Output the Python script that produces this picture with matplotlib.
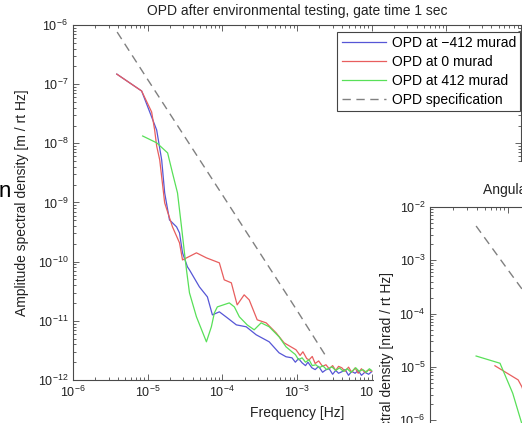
import matplotlib
matplotlib.use("Agg")
import matplotlib.pyplot as plt
from matplotlib.ticker import LogLocator, NullFormatter
from matplotlib.patches import Rectangle

plt.rcParams['font.family'] = ['Liberation Sans', 'DejaVu Sans']
plt.rcParams['mathtext.fontset'] = 'custom'
plt.rcParams['mathtext.rm'] = 'Liberation Sans'
plt.rcParams['mathtext.it'] = 'Liberation Sans:italic'
plt.rcParams['mathtext.bf'] = 'Liberation Sans:bold'

# ---------------- data (main chart) ----------------
title_main = "OPD after environmental testing, gate time 1 sec"
xlabel_main = "Frequency [Hz]"
ylabel_main = "Amplitude spectral density [m / rt Hz]"
legend_labels = ["OPD at \u2212412 murad", "OPD at 0 murad", "OPD at 412 murad", "OPD specification"]

f_blue = [3.86e-6, 8.3e-6, 1.32e-5, 1.54e-5, 1.69e-5, 1.96e-5, 2.44e-5, 2.67e-5, 2.93e-5, 3.41e-5,
          3.63e-5, 4.93e-5, 6.31e-5, 7.36e-5, 9.12e-5, 1.17e-4, 1.54e-4, 2.09e-4, 2.84e-4, 4.24e-4,
          5.75e-4, 7.13e-4, 8.57e-4, 9.5e-4, 1.05e-3, 1.17e-3, 1.3e-3, 1.4e-3, 1.58e-3, 1.75e-3,
          1.95e-3, 2.2e-3, 2.44e-3, 2.7e-3, 3.0e-3, 3.3e-3, 3.6e-3, 4.0e-3, 4.4e-3, 4.9e-3,
          5.4e-3, 6.0e-3, 6.6e-3, 7.3e-3, 8.1e-3, 9.1e-3, 1e-2]
a_blue = [1.48e-7, 7.67e-8, 1.68e-8, 5.25e-9, 1.45e-9, 5.08e-10, 3.87e-10, 3.06e-10, 1.41e-10, 8.17e-11,
          7.26e-11, 3.75e-11, 2.54e-11, 1.26e-11, 1.42e-11, 1.12e-11, 8.55e-12, 7.93e-12, 5.81e-12, 4.42e-12,
          2.88e-12, 2.47e-12, 2.37e-12, 2.0e-12, 2.3e-12, 1.95e-12, 1.75e-12, 2.0e-12, 1.61e-12, 1.5e-12,
          1.7e-12, 1.35e-12, 1.49e-12, 1.55e-12, 1.25e-12, 1.45e-12, 1.3e-12, 1.38e-12, 1.5e-12, 1.2e-12,
          1.4e-12, 1.3e-12, 1.45e-12, 1.2e-12, 1.35e-12, 1.25e-12, 1.38e-12]

f_red = [3.86e-6, 8.3e-6, 1.13e-5, 1.24e-5, 1.32e-5, 1.45e-5, 1.69e-5, 2.15e-5, 2.67e-5, 2.93e-5,
         4.50e-5, 6.12e-5, 9.12e-5, 1.06e-4, 1.32e-4, 1.58e-4, 1.96e-4, 2.29e-4, 2.93e-4, 3.86e-4,
         5.25e-4, 6.71e-4, 9.70e-4, 1.1e-3, 1.2e-3, 1.35e-3, 1.45e-3, 1.6e-3, 1.75e-3, 1.95e-3,
         2.2e-3, 2.44e-3, 2.7e-3, 3.0e-3, 3.3e-3, 3.6e-3, 3.98e-3, 4.4e-3, 4.9e-3, 5.4e-3,
         6.0e-3, 6.6e-3, 7.3e-3, 8.1e-3, 9.1e-3, 1e-2]
a_red = [1.48e-7, 7.67e-8, 3.39e-8, 1.68e-8, 9.0e-9, 5.25e-9, 9.84e-10, 3.87e-10, 2.08e-10, 1.07e-10,
         1.41e-10, 1.16e-10, 9.55e-11, 4.93e-11, 4.39e-11, 1.86e-11, 2.75e-11, 2.26e-11, 1.04e-11, 9.25e-12,
         6.27e-12, 4.25e-12, 3.24e-12, 2.6e-12, 3.0e-12, 2.3e-12, 2.19e-12, 2.5e-12, 1.9e-12, 2.1e-12,
         1.7e-12, 1.81e-12, 1.55e-12, 1.75e-12, 1.45e-12, 1.7e-12, 1.61e-12, 1.4e-12, 1.65e-12, 1.35e-12,
         1.6e-12, 1.3e-12, 1.55e-12, 1.35e-12, 1.49e-12, 1.4e-12]

f_green = [8.57e-6, 1.32e-5, 1.85e-5, 2.15e-5, 2.51e-5, 2.67e-5, 2.84e-5, 3.11e-5, 3.31e-5, 3.63e-5,
           4.50e-5, 6.12e-5, 7.13e-5, 7.82e-5, 8.57e-5, 1.24e-4, 1.45e-4, 1.69e-4, 2.15e-4, 2.67e-4,
           3.31e-4, 4.24e-4, 5.75e-4, 7.13e-4, 8.57e-4, 9.5e-4, 1.05e-3, 1.17e-3, 1.3e-3, 1.45e-3,
           1.6e-3, 1.79e-3, 2.0e-3, 2.2e-3, 2.5e-3, 2.93e-3, 3.3e-3, 3.7e-3, 4.2e-3, 4.7e-3,
           5.3e-3, 6.12e-3, 6.8e-3, 7.6e-3, 8.5e-3, 9.3e-3, 1e-2]
a_green = [1.33e-8, 1.02e-8, 6.89e-9, 3.16e-9, 1.45e-9, 7.50e-10, 3.87e-10, 1.41e-10, 7.26e-11, 2.97e-11,
           1.17e-11, 4.42e-12, 7.93e-12, 1.36e-11, 1.72e-11, 2.01e-11, 1.72e-11, 1.17e-11, 8.55e-12, 7.05e-12,
           9.25e-12, 7.93e-12, 5.37e-12, 3.64e-12, 2.99e-12, 2.7e-12, 2.2e-12, 2.37e-12, 2.0e-12, 2.2e-12,
           1.75e-12, 1.81e-12, 1.6e-12, 1.75e-12, 1.5e-12, 1.67e-12, 1.45e-12, 1.6e-12, 1.4e-12, 1.55e-12,
           1.35e-12, 1.61e-12, 1.4e-12, 1.5e-12, 1.35e-12, 1.55e-12, 1.45e-12]

f_spec = [3.9e-6, 1e-5, 1e-4, 1e-3, 2.45e-3]
a_spec = [7.6e-7, 1.2e-7, 1.35e-9, 1.5e-11, 2.5e-12]

# ---------------- data (overlapping second chart) ----------------
title_second = "Angular jitter after environmental testing"
ylabel_second = "Amplitude spectral density [nrad / rt Hz]"
f2_red = [6.8e-6, 8.4e-6, 1.35e-5, 1.51e-5, 1.9e-5]
a2_red = [1.05e-5, 8.7e-6, 5.7e-6, 4.2e-6, 1.6e-6]
f2_green = [3.9e-6, 7.9e-6, 1.15e-5, 1.48e-5, 2.0e-5]
a2_green = [1.6e-5, 1.17e-5, 3.2e-6, 9.3e-7, 2.0e-7]
f2_spec = [3.9e-6, 1e-5, 1e-4]
a2_spec = [4.4e-3, 6.6e-4, 6.6e-6]

C_BLUE = '#5656d6'
C_RED = '#e85e5e'
C_GREEN = '#58e058'
C_SPEC = '#808080'
C_AX = '#4a4a4a'

W, H = 522, 423
fig = plt.figure(figsize=(W / 100, H / 100), dpi=100)


def px_rect(x0, y0, x1, y1):
    return [x0 / W, 1 - y1 / H, (x1 - x0) / W, (y1 - y0) / H]


def style_log_axes(ax):
    for s in ax.spines.values():
        s.set_color(C_AX)
        s.set_linewidth(0.8)
    ax.tick_params(which='both', direction='in', top=True, right=True, colors=C_AX,
                   labelcolor='#222222', labelsize=9, width=0.6)
    ax.tick_params(which='major', length=4)
    ax.tick_params(which='minor', length=2)
    for axis in (ax.xaxis, ax.yaxis):
        axis.set_major_locator(LogLocator(base=10, numticks=30))
        axis.set_minor_locator(LogLocator(base=10, subs=range(2, 10), numticks=30))
        axis.set_minor_formatter(NullFormatter())


# main axes
ax = fig.add_axes(px_rect(73, 25, 521, 380))
ax.set_xscale('log')
ax.set_yscale('log')
ax.plot(f_blue, a_blue, color=C_BLUE, lw=0.9, label=legend_labels[0])
ax.plot(f_red, a_red, color=C_RED, lw=0.9, label=legend_labels[1])
ax.plot(f_green, a_green, color=C_GREEN, lw=0.9, label=legend_labels[2])
ax.plot(f_spec, a_spec, color=C_SPEC, lw=1.0, linestyle=(0, (6, 4)), label=legend_labels[3])
ax.set_xlim(1e-6, 1e0)
ax.set_ylim(1e-12, 1e-6)
style_log_axes(ax)
ax.set_title(title_main, fontsize=10, color='#222222', pad=7)
ax.set_xlabel(xlabel_main, fontsize=10, color='#222222', labelpad=4)
ax.set_ylabel(ylabel_main, fontsize=10, color='#222222', labelpad=6)
leg = ax.legend(loc='upper right', bbox_to_anchor=(520 / W, 1 - 32 / H), bbox_transform=fig.transFigure,
                borderaxespad=0, fancybox=False, framealpha=1, edgecolor='#444444', fontsize=10,
                handlelength=3.2, handletextpad=0.4, labelspacing=0.35, borderpad=0.3)
leg.get_frame().set_linewidth(0.8)

# white panel of the pasted second chart
panel = Rectangle((374 / W, 0), (W - 374) / W, (H - 162) / H, transform=fig.transFigure,
                  facecolor='white', edgecolor='none', zorder=1)
fig.add_artist(panel)

# second chart axes (extends beyond the figure)
dec_x2, dec_y2 = 78, 53.3
ax2 = fig.add_axes(px_rect(430, 207, 430 + 6 * dec_x2, 207 + 7 * dec_y2))
ax2.set_zorder(2)
ax2.set_xscale('log')
ax2.set_yscale('log')
ax2.plot(f2_red, a2_red, color=C_RED, lw=0.9)
ax2.plot(f2_green, a2_green, color=C_GREEN, lw=0.9)
ax2.plot(f2_spec, a2_spec, color=C_SPEC, lw=1.0, linestyle=(0, (6, 4)))
ax2.set_xlim(1e-6, 1e0)
ax2.set_ylim(1e-9, 1e-2)
style_log_axes(ax2)
ax2.set_ylabel(ylabel_second, fontsize=10, color='#222222', labelpad=4)
fig.text(483 / W, 1 - 190 / H, title_second, fontsize=10, color='#222222', ha='left', va='center', zorder=3)

# fragment of slide text at the left edge
fig.text(-1 / W, 1 - 197 / H, "n", fontsize=16, color='black', ha='left', va='baseline')

fig.savefig("out.png", dpi=100)
